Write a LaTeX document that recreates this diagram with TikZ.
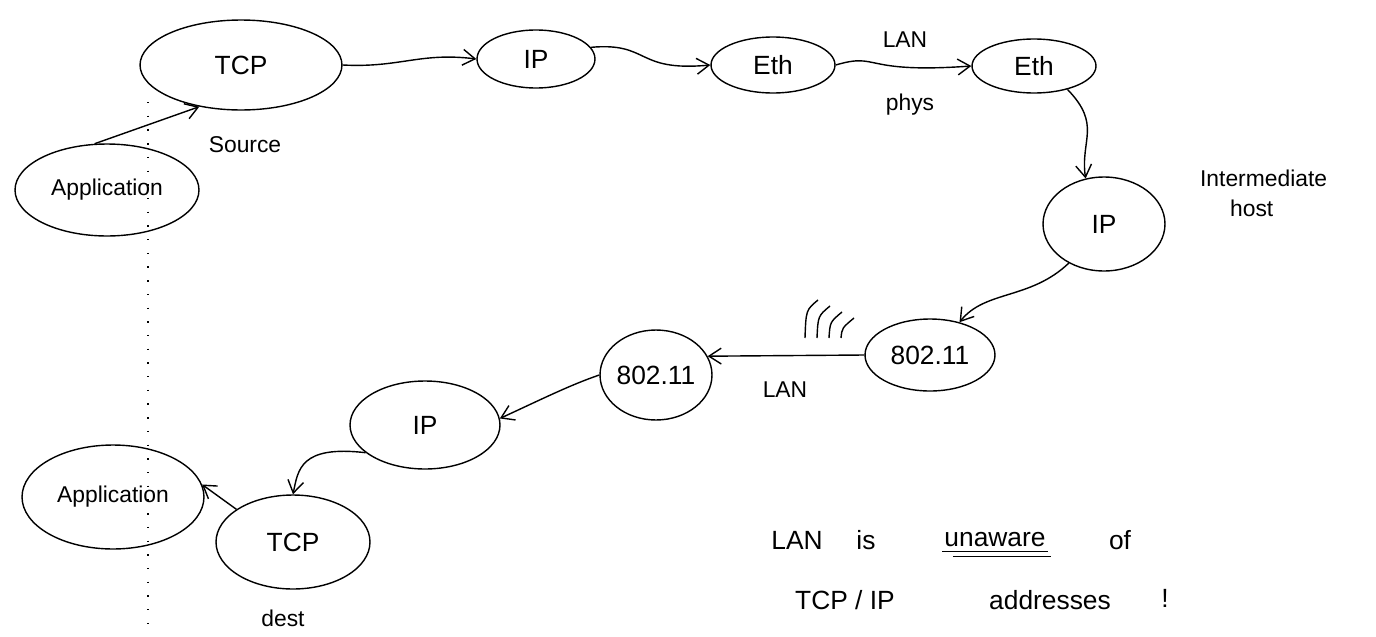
\documentclass[tikz,border=0pt]{standalone}
\usepackage{fontspec}
\setmainfont{Liberation Sans}
\usetikzlibrary{shapes.geometric,arrows.meta}

\begin{document}
\begin{tikzpicture}[x=0.02cm,y=-0.02cm,
  blob/.style={draw,ellipse,inner sep=0pt,line width=0.8pt,
    font=\fontsize{15}{17}\selectfont},
  link/.style={line width=0.8pt,-{Straight Barb[length=7pt,width=9pt]}},
  lbl/.style={font=\fontsize{13}{15}\selectfont,inner sep=1pt},
  note/.style={font=\fontsize{15}{17}\selectfont,inner sep=1pt},
]
\useasboundingbox (0,0) rectangle (1376,636);

% layer stack on the source host
\node[blob,minimum width=4.04cm,minimum height=1.8cm]  (tcpS) at (241,65)  {TCP};
\node[blob,minimum width=3.68cm,minimum height=1.84cm,font=\fontsize{13}{15}\selectfont] (appS) at (107,190) {Application};
\node[blob,minimum width=2.36cm,minimum height=1.16cm] (ipS)  at (536,59)  {IP};
\node[blob,minimum width=2.48cm,minimum height=1.12cm] (ethS) at (773,65)  {Eth};

% intermediate host
\node[blob,minimum width=2.48cm,minimum height=1.08cm] (ethM) at (1034,66) {Eth};
\node[blob,minimum width=2.44cm,minimum height=1.88cm] (ipM)  at (1104,224) {IP};
\node[blob,minimum width=2.6cm,minimum height=1.44cm]  (wiM)  at (930,355) {802.11};

% destination host
\node[blob,minimum width=2.24cm,minimum height=1.8cm]  (wiD)  at (656,375) {802.11};
\node[blob,minimum width=3.0cm,minimum height=1.76cm]  (ipD)  at (425,425) {IP};
\node[blob,minimum width=3.08cm,minimum height=1.88cm] (tcpD) at (293,542) {TCP};
\node[blob,minimum width=3.64cm,minimum height=2.08cm,font=\fontsize{13}{15}\selectfont] (appD) at (113,497) {Application};

% labels
\node[lbl] (src)  at (245,145) {Source};
\node[lbl] (dst)  at (283,618) {dest};
\node[lbl] (lan1) at (905,40)  {LAN};
\node[lbl] (phys) at (910,105) {phys};
\node[lbl,anchor=west] (inter) at (1198,178) {Intermediate};
\node[lbl,anchor=west] (host)  at (1228,208) {host};
\node[lbl] (lan2) at (785,390) {LAN};

% remark
\node[note] (wLan) at (797,540) {LAN};
\node[note] (wIs)  at (866,540) {is};
\node[note] (wUn)  at (995,540) {unaware};
\node[note] (wOf)  at (1120,540) {of};
\node[note] (wTcp) at (845,600) {TCP / IP};
\node[note] (wAdd) at (1050,600) {addresses};
\node[note] (wEx)  at (1165,598) {!};
\draw[line width=0.6pt] ([yshift=-1pt]wUn.south west) -- ([yshift=-1pt]wUn.south east);
\draw[line width=0.6pt] ([xshift=6pt,yshift=-4pt]wUn.south west) -- ([xshift=2pt,yshift=-4pt]wUn.south east);

% connectors down the source stack and across
\draw[link] (appS.105) -- (tcpS.225);
\draw[link] (tcpS.east) .. controls (400,68) and (420,52) .. (ipS.west);
\draw[link] (ipS.12) .. controls (650,42) and (635,72) .. (ethS.west);
\draw[link] (ethS.east) .. controls (880,52) and (860,74) .. (ethM.west);
\draw[link] (ethM.-35) .. controls (1102,125) and (1080,140) .. (ipM.112);
\draw[link] (ipM.228) .. controls (1030,300) and (985,290) .. (wiM.48);
\draw[link] (wiM.west) -- (wiD.20);
\draw[link] (wiD.west) .. controls (570,385) and (540,400) .. (ipD.5);
\draw[link] (ipD.205) .. controls (300,445) and (298,470) .. (tcpD.north);
\draw[link] (tcpD.150) -- (appD.8);

% radio waves over the wireless link
\foreach \i in {0,1,2,3}
  \draw[line width=0.8pt] (818+12*\i,300+6*\i) .. controls (806+12*\i,310+6*\i) .. (805+12*\i,338);

% boundary between the application and transport layers
\draw[line width=0.9pt,dash pattern=on 0.8pt off 7pt] (148,102) -- (148,636);
\end{tikzpicture}
\end{document}
